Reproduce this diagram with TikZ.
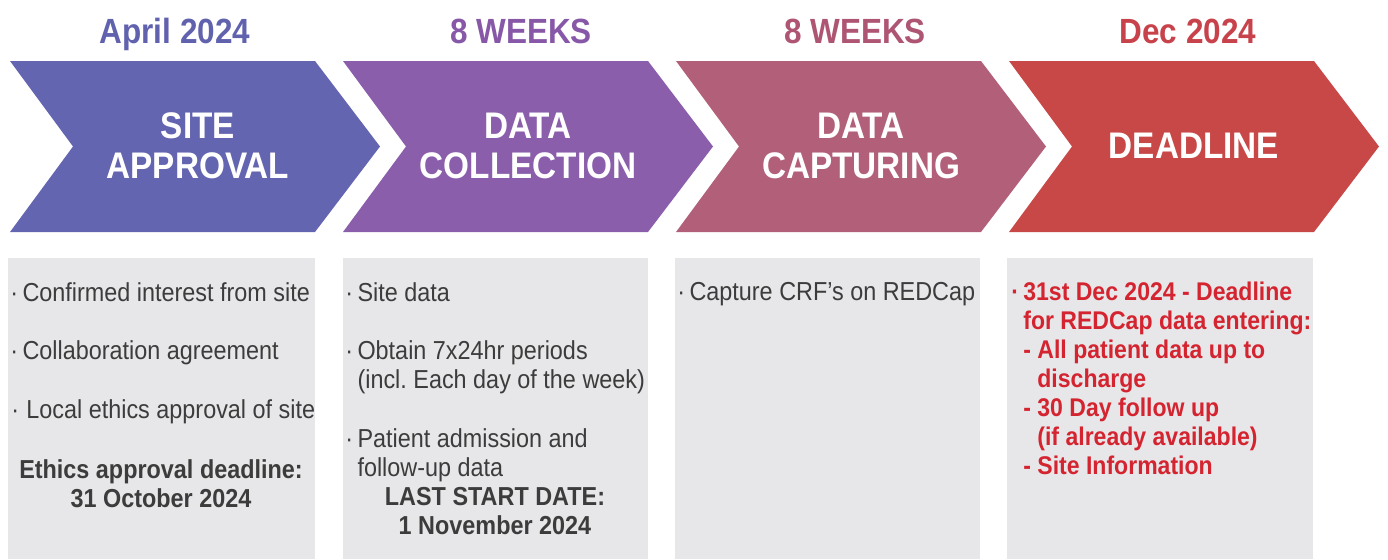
\documentclass[tikz,border=0pt]{standalone}
\usepackage{fontspec}
\setmainfont[FakeStretch=0.9]{Liberation Sans}
\frenchspacing
\definecolor{chevA}{HTML}{6465B0}
\definecolor{chevB}{HTML}{8B5EAB}
\definecolor{chevC}{HTML}{B26079}
\definecolor{chevD}{HTML}{C84848}
\definecolor{headA}{HTML}{6162AE}
\definecolor{headB}{HTML}{8758A8}
\definecolor{headC}{HTML}{AE5573}
\definecolor{headD}{HTML}{C7424A}
\definecolor{boxgrey}{HTML}{E7E7E9}
\definecolor{txtgrey}{HTML}{3C3C3C}
\definecolor{txtred}{HTML}{D42430}
\tikzset{
	head/.style = {anchor=base, inner sep=0pt, text=#1,
		font=\fontsize{17.5}{20}\selectfont\bfseries},
	chevtext/.style = {align=center, inner sep=0pt, text=white,
		font=\fontsize{18.5}{20}\selectfont\bfseries},
	item/.style = {anchor=north west, align=left, inner sep=0pt,
		text=txtgrey, font=\fontsize{13}{14.5}\selectfont},
	itembold/.style = {item, anchor=north, align=center,
		font=\fontsize{13}{14.5}\selectfont\bfseries},
	itemred/.style = {item, text=txtred,
		font=\fontsize{12.8}{14.5}\selectfont\bfseries}
}

\begin{document}
\begin{tikzpicture}[x=0.5pt, y=-0.5pt]
\useasboundingbox (0,0) rectangle (1388,559);

\node[head=headA] (h1) at (175,43) {April 2024};
\node[head=headB] (h2) at (521,43) {8 WEEKS};
\node[head=headC] (h3) at (855,43) {8 WEEKS};
\node[head=headD] (h4) at (1188,43) {Dec 2024};

\fill[chevA] (10,61) -- (315,61) -- (380,146.5) -- (315,232) -- (10,232) -- (73,146.5) -- cycle;
\fill[chevB] (343,61) -- (648,61) -- (713,146.5) -- (648,232) -- (343,232) -- (406,146.5) -- cycle;
\fill[chevC] (676,61) -- (981,61) -- (1046,146.5) -- (981,232) -- (676,232) -- (739,146.5) -- cycle;
\fill[chevD] (1009,61) -- (1314,61) -- (1379,146.5) -- (1314,232) -- (1009,232) -- (1072,146.5) -- cycle;

\node[chevtext] (c1) at (198,146) {SITE\\APPROVAL};
\node[chevtext] (c2) at (528,146) {DATA\\COLLECTION};
\node[chevtext] (c3) at (861,146) {DATA\\CAPTURING};
\node[chevtext] (c4) at (1194,146) {DEADLINE};

\fill[boxgrey] (8,258) rectangle (315,559);
\fill[boxgrey] (343,258) rectangle (648,559);
\fill[boxgrey] (675,258) rectangle (980,559);
\fill[boxgrey] (1007,258) rectangle (1313,559);

\node[item] (a1) at (10,282) {·\,Confirmed interest from site};
\node[item] (a2) at (10,340) {·\,Collaboration agreement};
\node[item] (a3) at (11,399) {·\;Local ethics approval of site};
\node[itembold] (a4) at (161,459) {Ethics approval deadline:\\31 October 2024};

\node[item] (b1) at (345,282) {·\,Site data};
\node[item] (b2) at (345,340) {·\,Obtain 7x24hr periods\\\hphantom{·\,}(incl. Each day of the week)};
\node[item] (b3) at (345,428) {·\,Patient admission and\\\hphantom{·\,}follow-up data};
\node[itembold] (b4) at (495,487) {LAST START DATE:\\1 November 2024};

\node[item] (k1) at (677,282) {·\,Capture CRF’s on REDCap};

\node[itemred] (d1) at (1011,282) {·\,31st Dec 2024 - Deadline\\
	\hphantom{·\,}for REDCap data entering:\\
	\hphantom{·\,}- All patient data up to\\
	\hphantom{·\,- }discharge\\
	\hphantom{·\,}- 30 Day follow up\\
	\hphantom{·\,- }(if already available)\\
	\hphantom{·\,}- Site Information};
\end{tikzpicture}
\end{document}
